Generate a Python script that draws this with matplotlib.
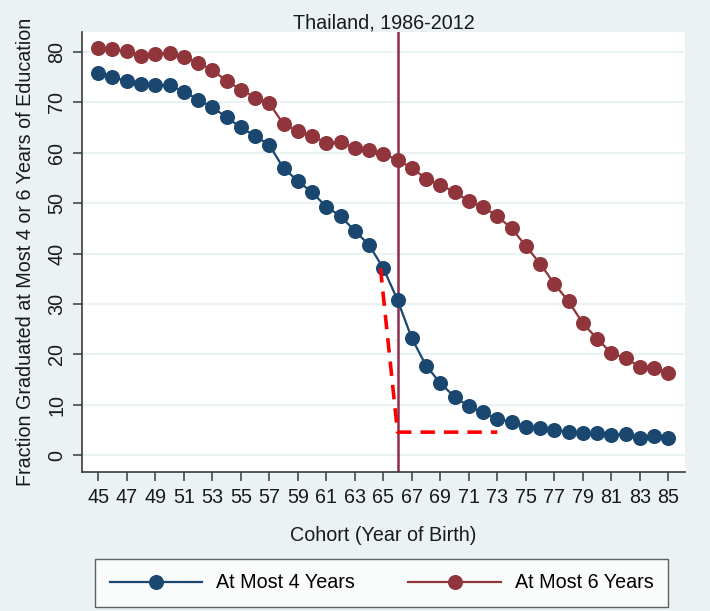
import matplotlib
matplotlib.use("Agg")
import matplotlib.pyplot as plt
from matplotlib.lines import Line2D

plt.rcParams['font.family'] = ['Liberation Sans', 'DejaVu Sans']

# Birth cohorts (19xx)
cohorts = list(range(45, 86))

# Percent of cohort graduating with at most 4 years of schooling
at_most_4 = [75.7, 74.9, 74.2, 73.5, 73.4, 73.3, 72.1, 70.5, 69.0, 67.0,
             65.0, 63.3, 61.5, 56.9, 54.4, 52.1, 49.3, 47.4, 44.5, 41.7,
             37.1, 30.8, 23.2, 17.8, 14.3, 11.6, 9.7, 8.5, 7.2, 6.6,
             5.6, 5.4, 5.0, 4.7, 4.5, 4.4, 4.1, 4.2, 3.5, 3.9, 3.5]

# Percent of cohort graduating with at most 6 years of schooling
at_most_6 = [80.8, 80.5, 80.1, 79.2, 79.5, 79.7, 79.0, 77.8, 76.4, 74.2,
             72.5, 70.9, 69.8, 65.6, 64.3, 63.3, 61.9, 62.1, 60.9, 60.5,
             59.8, 58.5, 57.0, 54.8, 53.6, 52.2, 50.4, 49.2, 47.4, 45.0,
             41.5, 38.0, 34.0, 30.5, 26.2, 23.1, 20.3, 19.2, 17.6, 17.3, 16.4]

x_ticks = list(range(45, 86, 2))
y_ticks = [0, 10, 20, 30, 40, 50, 60, 70, 80]

reform_cohort = 66
# Counterfactual drop path
drop_x = [64.8, 66, 73]
drop_y = [37.1, 4.6, 4.6]

series_labels = ["At Most 4 Years", "At Most 6 Years"]

BLUE = "#1a476f"
RED = "#90353b"
BG = "#eaf2f3"
AXC = "#3a3a3a"
TXT = "#1a1a1a"
FS = 14.2

fig = plt.figure(figsize=(7.10, 6.11), dpi=100)
fig.patch.set_facecolor(BG)

W, H = 710, 611
left, right, top, bottom = 82, 685, 32, 472
ax = fig.add_axes([left / W, 1 - bottom / H, (right - left) / W, (bottom - top) / H])
ax.set_facecolor("white")

ax.set_xlim(43.86, 86.17)
ax.set_ylim(-3.3, 83.9)

for yv in y_ticks:
    ax.axhline(yv, color=BG, lw=1.6, zorder=0)

ax.axvline(reform_cohort, color="#8c2f4e", lw=1.8, zorder=1)

ms = 9.8
ax.plot(cohorts, at_most_4, color=BLUE, lw=1.6, marker="o", ms=ms,
        markerfacecolor=BLUE, markeredgecolor=BLUE, zorder=3)
ax.plot(cohorts, at_most_6, color=RED, lw=1.6, marker="o", ms=ms,
        markerfacecolor=RED, markeredgecolor=RED, zorder=3)

ax.plot(drop_x, drop_y, color="#ff0000", lw=2.6, ls=(0, (4, 2.5)), zorder=4)

for s in ["top", "right"]:
    ax.spines[s].set_visible(False)
for s in ["left", "bottom"]:
    ax.spines[s].set_color(AXC)
    ax.spines[s].set_linewidth(1.2)

ax.set_xticks(x_ticks)
ax.set_yticks(y_ticks)
ax.set_yticklabels([str(v) for v in y_ticks], rotation=90, va="center")
ax.tick_params(axis="both", colors=AXC, labelcolor=TXT, labelsize=FS,
               length=6.5, width=1.1, direction="out")
ax.tick_params(axis="x", pad=5)
ax.tick_params(axis="y", pad=5)

ax.set_title("Thailand, 1986-2012", fontsize=FS, color=TXT, pad=2)
ax.set_xlabel("Cohort (Year of Birth)", fontsize=FS, color=TXT, labelpad=14)
ax.set_ylabel("Fraction Graduated at Most 4 or 6 Years of Education",
              fontsize=FS, color=TXT, labelpad=9)

handles = [
    Line2D([], [], color=BLUE, lw=1.6, marker="o", ms=ms),
    Line2D([], [], color=RED, lw=1.6, marker="o", ms=ms),
]
leg = fig.legend(handles, series_labels, loc="center",
                 bbox_to_anchor=((97 + 666) / 2 / W, 1 - 583 / H),
                 ncol=2, frameon=True, fontsize=FS, handlelength=4.7,
                 columnspacing=2.7, handletextpad=0.7, borderpad=0.72,
                 borderaxespad=0, fancybox=False)
leg.get_frame().set_edgecolor(AXC)
leg.get_frame().set_linewidth(1.0)
leg.get_frame().set_facecolor("white")

fig.savefig("out.png", dpi=100, facecolor=BG)
